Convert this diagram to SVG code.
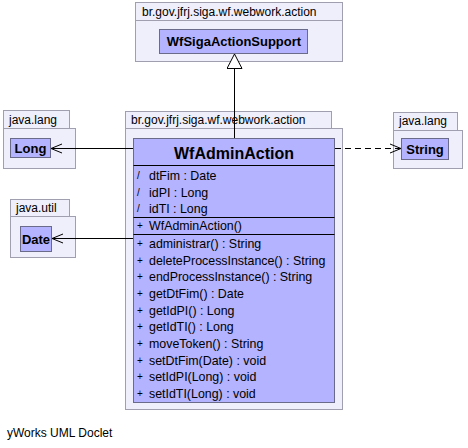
<svg xmlns="http://www.w3.org/2000/svg" width="468" height="448" viewBox="0 0 468 448">
<style>
.pkg{fill:#efeffb;stroke:#9f9fb0;stroke-width:1}
.cls{fill:#b3b3ff;stroke:#6a6a8a;stroke-width:1}
.sep{stroke:#000;stroke-width:1}
.lbl{font-family:"Liberation Sans",Arial,sans-serif;font-size:12px;fill:#000}
.name{font-family:"Liberation Sans",Arial,sans-serif;font-size:13px;font-weight:bold;fill:#000}
.big{font-family:"Liberation Sans",Arial,sans-serif;font-size:16px;font-weight:bold;fill:#000}
.mem{font-family:"Liberation Sans",Arial,sans-serif;font-size:12.4px;fill:#000}
.vis{font-family:"Liberation Sans",Arial,sans-serif;font-size:10px;fill:#000}
.edge{fill:none;stroke:#000;stroke-width:1}
</style>
<defs>
<marker id="open" markerWidth="12" markerHeight="12" refX="11" refY="6" orient="auto" markerUnits="userSpaceOnUse">
<path d="M0,1.5 L11,6 L0,10.5" fill="none" stroke="#000" stroke-width="1"/>
</marker>
<marker id="tri" markerWidth="16" markerHeight="18" refX="15" refY="8" orient="auto" markerUnits="userSpaceOnUse">
<path d="M0.5,0.5 L15,8 L0.5,15.5 Z" fill="#fff" stroke="#000" stroke-width="1"/>
</marker>
</defs>

<g id="pkg-top">
<rect class="pkg" x="135.5" y="2.5" width="207" height="18"/>
<rect class="pkg" x="135.5" y="20.5" width="207" height="41"/>
<text class="lbl" x="142" y="16">br.gov.jfrj.siga.wf.webwork.action</text>
</g>
<g id="WfSigaActionSupport">
<rect class="cls" x="159.5" y="29.5" width="148" height="24"/>
<text class="name" x="234" y="46" text-anchor="middle">WfSigaActionSupport</text>
</g>

<g id="pkg-main">
<rect class="pkg" x="125.5" y="111.5" width="206" height="17"/>
<rect class="pkg" x="125.5" y="128.5" width="217" height="281"/>
<text class="lbl" x="131" y="124">br.gov.jfrj.siga.wf.webwork.action</text>
</g>

<g id="pkg-lang-left">
<rect class="pkg" x="3.5" y="110.5" width="66" height="18"/>
<rect class="pkg" x="3.5" y="128.5" width="72" height="40"/>
<text class="lbl" x="9" y="124">java.lang</text>
</g>
<g id="Long">
<rect class="cls" x="10.5" y="138.5" width="40" height="19"/>
<text class="name" x="30.5" y="153" text-anchor="middle">Long</text>
</g>

<g id="pkg-util">
<rect class="pkg" x="10.5" y="199.5" width="59" height="17"/>
<rect class="pkg" x="10.5" y="216.5" width="65" height="41"/>
<text class="lbl" x="16" y="212">java.util</text>
</g>
<g id="Date">
<rect class="cls" x="20.5" y="226.5" width="31" height="25"/>
<text class="name" x="36" y="244" text-anchor="middle">Date</text>
</g>

<g id="pkg-lang-right">
<rect class="pkg" x="393.5" y="112.5" width="64" height="18"/>
<rect class="pkg" x="393.5" y="130.5" width="69" height="38"/>
<text class="lbl" x="399" y="125">java.lang</text>
</g>
<g id="String">
<rect class="cls" x="401.5" y="138.5" width="47" height="21"/>
<text class="name" x="425" y="154" text-anchor="middle">String</text>
</g>

<g id="WfAdminAction">
<rect class="cls" x="133.5" y="138.5" width="201" height="264"/>
<text class="big" x="234" y="159" text-anchor="middle">WfAdminAction</text>
<line class="sep" x1="133.5" y1="165.5" x2="334.5" y2="165.5"/>
<text class="vis" x="137" y="179">/</text><text class="mem" x="149" y="180">dtFim : Date</text>
<text class="vis" x="137" y="196">/</text><text class="mem" x="149" y="197">idPI : Long</text>
<text class="vis" x="137" y="212">/</text><text class="mem" x="149" y="213">idTI : Long</text>
<line class="sep" x1="133.5" y1="217.5" x2="334.5" y2="217.5"/>
<text class="vis" x="137" y="229">+</text><text class="mem" x="149" y="230">WfAdminAction()</text>
<line class="sep" x1="133.5" y1="234.5" x2="334.5" y2="234.5"/>
<text class="vis" x="137" y="247">+</text><text class="mem" x="149" y="248">administrar() : String</text>
<text class="vis" x="137" y="264">+</text><text class="mem" x="149" y="265">deleteProcessInstance() : String</text>
<text class="vis" x="137" y="280">+</text><text class="mem" x="149" y="281">endProcessInstance() : String</text>
<text class="vis" x="137" y="297">+</text><text class="mem" x="149" y="298">getDtFim() : Date</text>
<text class="vis" x="137" y="314">+</text><text class="mem" x="149" y="315">getIdPI() : Long</text>
<text class="vis" x="137" y="330">+</text><text class="mem" x="149" y="331">getIdTI() : Long</text>
<text class="vis" x="137" y="347">+</text><text class="mem" x="149" y="348">moveToken() : String</text>
<text class="vis" x="137" y="364">+</text><text class="mem" x="149" y="365">setDtFim(Date) : void</text>
<text class="vis" x="137" y="380">+</text><text class="mem" x="149" y="381">setIdPI(Long) : void</text>
<text class="vis" x="137" y="397">+</text><text class="mem" x="149" y="398">setIdTI(Long) : void</text>
</g>

<g id="connectors">
<line class="edge" x1="234.5" y1="138" x2="234.5" y2="54" marker-end="url(#tri)"/>
<line class="edge" x1="133" y1="148.5" x2="51" y2="148.5" marker-end="url(#open)"/>
<line class="edge" x1="133" y1="238.5" x2="52" y2="238.5" marker-end="url(#open)"/>
<line class="edge" x1="335" y1="148.5" x2="401" y2="148.5" stroke-dasharray="6,4" marker-end="url(#open)"/>
</g>

<text class="lbl" x="7" y="437">yWorks UML Doclet</text>
</svg>
